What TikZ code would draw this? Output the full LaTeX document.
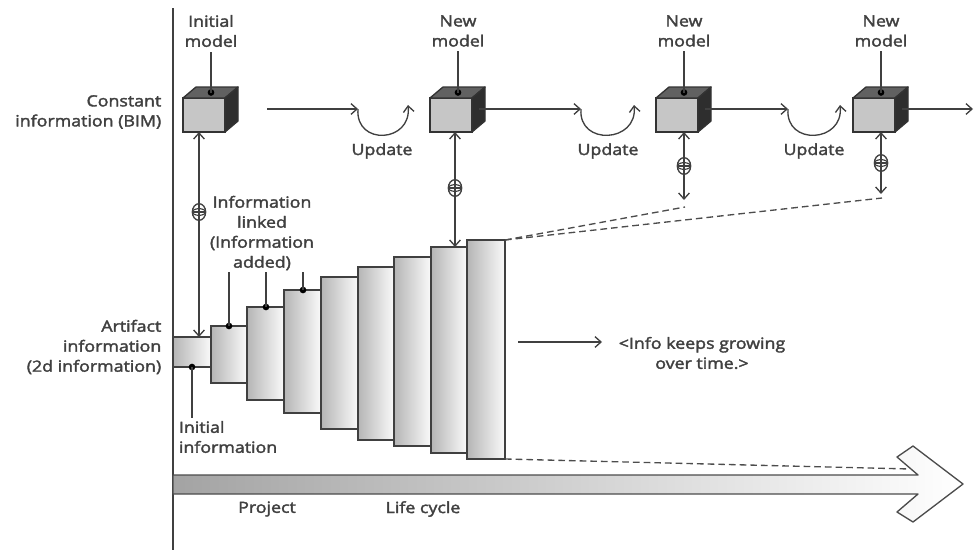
\documentclass[tikz,border=0pt]{standalone}
\usepackage{fontspec}
\setmainfont{Open Sans}[FakeStretch=1.15,FakeBold=2.2,AutoFakeBold=2.2]
\usetikzlibrary{arrows.meta,shapes.geometric}
\begin{document}
\begin{tikzpicture}[x=0.75pt,y=-0.75pt,
  every node/.style={font=\fontsize{11.6pt}{15pt}\selectfont\bfseries, text=black!75},
  ln/.style={draw=black!75, line width=1pt},
  arr/.style={-{Straight Barb[length=4.5pt,width=8pt]}},
  dbl/.style={{Straight Barb[length=4.5pt,width=8pt]}-{Straight Barb[length=4.5pt,width=8pt]}},
  front/.style={draw=black!80, fill=gray!45, minimum width=31.5pt, minimum height=25.5pt, inner sep=0pt, outer sep=0pt, line width=1pt},
  topface/.style={draw=black!80, fill=black!62, line width=1pt, line join=round},
  sideface/.style={draw=black!80, fill=black!82, line width=1pt, line join=round},
  dotn/.style={circle, fill=black, inner sep=0pt, minimum size=5pt},
  lsym/.style={ellipse, draw=black!75, line width=1pt, inner sep=0pt, minimum width=10pt, minimum height=12.5pt,
     path picture={\draw[black!75, line width=1pt] (path picture bounding box.west) -- (path picture bounding box.east);
                   \draw[black!75, line width=0.9pt] (path picture bounding box.center) ellipse (5pt and 2.5pt);}},
  bar/.style={draw=black!75, line width=1pt, left color=gray!58, right color=gray!4, inner sep=0pt, outer sep=0pt},
  dsh/.style={draw=black!70, line width=1pt, dash pattern=on 5pt off 3pt}
]
\useasboundingbox (0,0) rectangle (974,550);

% axis
\coordinate (ax0) at (173,8);
\coordinate (ax1) at (173,550);
\draw[ln] (ax0) -- (ax1);

% left labels
\node[anchor=east, align=right] (lc) at (166,112) {Constant\\information (BIM)};
\node[anchor=east, align=right] (la) at (166,347) {Artifact\\information\\(2d information)};

% cubes
\foreach \n/\x in {1/204,2/451,3/677,4/874}{
  \node[front] (c\n) at (\x,115) {};
  \filldraw[topface] (c\n.north west) -- ++(13,-11) -- ++(42,0) -- (c\n.north east) -- cycle;
  \filldraw[sideface] (c\n.north east) -- ++(13,-11) -- ++(0,34) -- (c\n.south east) -- cycle;
  \node[dotn] (d\n) at ([shift={(7,-5.5)}]c\n.north) {};
  \coordinate (r\n) at ([shift={(6.5,-6)}]c\n.east);
}

% top labels
\node[align=center] (t1) at (211,31) {Initial\\model};
\node[align=center] (t2) at (458,31) {New\\model};
\node[align=center] (t3) at (684,31) {New\\model};
\node[align=center] (t4) at (881,31) {New\\model};
\foreach \n in {1,2,3,4}{ \draw[ln] (d\n.center) -- (d\n |- t\n.south); }

% update arcs
\coordinate (h1) at (267,109);
\coordinate (u1a) at (358,109); \coordinate (u1b) at (408,105);
\coordinate (u2a) at (581,109); \coordinate (u2b) at (634,105);
\coordinate (u3a) at (788,109); \coordinate (u3b) at (840,105);
\coordinate (e5) at (973,109);
\draw[ln,arr] (h1) -- (u1a);
\draw[ln,arr] (r2) -- (u2a);
\draw[ln,arr] (r3) -- (u3a);
\draw[ln,arr] (r4) -- (e5);
\foreach \n in {1,2,3}{
  \draw[ln,arr] (u\n a) .. controls +(-3,37) and +(4,38) .. (u\n b);
}
\node (up1) at (382,151) {Update};
\node (up2) at (608,151) {Update};
\node (up3) at (814,151) {Update};

% bars
\foreach \i/\xa/\xb/\ya/\yb in {0/173/211/337/367, 1/211/247/326/383, 2/247/284/307/400,
   3/284/321/290/413, 4/321/358/277/429, 5/358/394/267/440, 6/394/431/257/446,
   7/431/467/247/453, 8/467/505/240/459}{
  \node[bar, minimum width={(\xb-\xa)*0.75pt}, minimum height={(\yb-\ya)*0.75pt}] (b\i) at ({(\xa+\xb)/2},{(\ya+\yb)/2}) {};
}

% vertical links
\node[lsym] (s1) at (199,212) {};
\node[lsym] (s2) at (455,188) {};
\node[lsym] (s3) at (684,166) {};
\node[lsym] (s4) at (881,163) {};
\coordinate (e3) at (684,200);
\coordinate (e4) at (881,194);
\draw[ln,dbl] (s1 |- c1.south) -- (s1 |- b0.north);
\draw[ln,dbl] (s2 |- c2.south) -- (s2 |- b7.north);
\draw[ln,dbl] (s3 |- c3.south) -- (e3);
\draw[ln,dbl] (s4 |- c4.south) -- (e4);

% dashed projections
\coordinate (f3) at (685,207);
\coordinate (f4) at (882,198);
\coordinate (f5) at (910,469);
\draw[dsh] (b8.north east) -- (f3);
\draw[dsh] (b8.north east) -- (f4);

% labels on bars
\node[align=center, inner sep=1pt] (il) at (262,233) {Information\\linked\\(Information\\added)};
\node[anchor=west, align=left, inner sep=2pt] (ii) at (176,437) {Initial\\information};
\node[dotn] (p0) at (192,367) {};
\node[dotn] (p1) at (229,326) {};
\node[dotn] (p2) at (266,307) {};
\node[dotn] (p3) at (303,290) {};
\draw[ln] (p0.center) -- (p0 |- ii.north);
\foreach \k in {1,2,3}{ \draw[ln] (p\k.center) -- (p\k |- il.south); }

% info text
\node[align=center] (inf) at (702,353) {<Info keeps growing\\over time.>};
\coordinate (ia) at (518,342);
\coordinate (ib) at (602,342);
\draw[ln,arr] (ia) -- (ib);

% bottom arrow
\path[draw=black!70, line width=1pt, left color=gray!72, right color=white, line join=round]
  (173,475) -- (918,475) -- (897,457) -- (913,446) -- (963,484) -- (913,522) -- (897,512) -- (918,494) -- (173,494) -- cycle;
\draw[dsh] (b8.south east) -- (f5);
\node (pj) at (267,509) {Project};
\node (lcy) at (423,509) {Life cycle};
\end{tikzpicture}
\end{document}
